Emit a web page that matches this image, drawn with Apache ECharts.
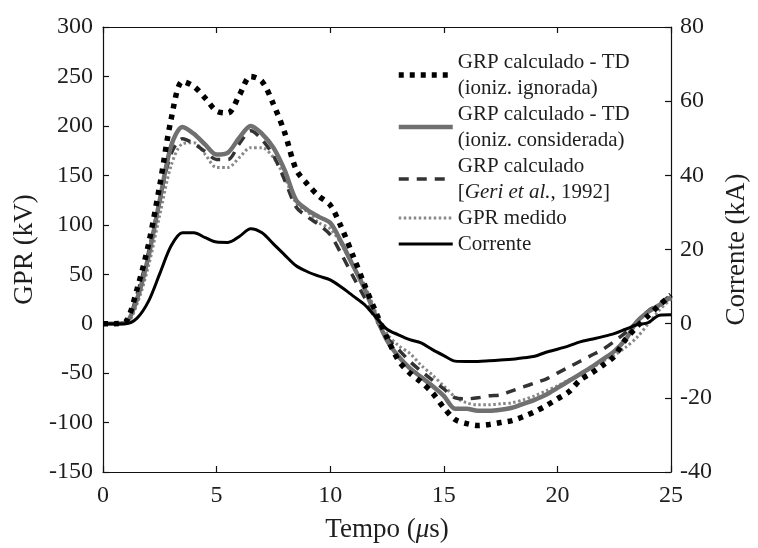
<!DOCTYPE html>
<html>
<head>
<meta charset="utf-8">
<script src="https://cdn.jsdelivr.net/npm/echarts@6/dist/echarts.min.js"></script>
<style>html,body{margin:0;padding:0;background:#fff}#c{width:758px;height:548px}</style>
</head>
<body>
<div id="c"></div>
<script>
// time axis (µs)
const tempo = [0,0.5,1,1.5,2,2.5,3,3.5,4,4.5,5,5.5,6,6.5,7,7.5,8,8.5,9,9.5,10,10.5,11,11.5,12,12.5,13,13.5,14,14.5,15,15.5,16,16.5,17,17.5,18,18.5,19,19.5,20,20.5,21,21.5,22,22.5,23,23.5,24,24.5,25];
// GRP calculado - TD (ioniz. ignorada), kV
const grpIgnorada = [0,0,2,35,80,140,207,245,240,228,215,213,231,250,245,222,193,156,141,129,120,97,69,40,12,-14,-37,-50,-59,-70,-85,-97,-101,-103,-102,-100,-98,-94,-89,-83,-76,-69,-57,-50,-42,-33,-16,-3,8,19,29];
// GRP calculado - TD (ioniz. considerada), kV
const grpConsiderada = [0,0,1,25,68,125,180,199,192,181,171,173,188,200,192,178,155,125,115,108,102,82,59,36,8,-17,-33,-45,-54,-63,-73,-86,-86,-88,-88,-87,-85,-81,-77,-72,-65,-58,-51,-44,-36,-28,-16,2,12,19,27];
// GRP calculado [Geri et al., 1992], kV
const grpGeri = [0,0,1,30,72,125,172,187,182,174,166,166,182,195,186,170,145,118,108,100,90,70,48,27,5,-14,-26,-38,-48,-57,-66,-75,-76,-75,-73,-72,-68,-64,-60,-56,-50,-44,-38,-32,-26,-18,-9,2,13,20,29];
// GPR medido, kV
const gprMedido = [0,0,0,20,58,110,160,182,183,171,158,158,168,178,178,168,148,122,113,102,96,80,58,40,12,-10,-22,-30,-42,-52,-63,-74,-80,-82,-82,-81,-80,-77,-73,-68,-63,-57,-51,-45,-38,-32,-24,-14,0,14,25];
// Corrente, kA
const corrente = [0,0,0,1.5,6,13.5,21,24.5,24.5,23.2,22,21.9,23.5,25.6,24.5,21.5,18.5,15.6,14,12.8,11.8,9.8,7.5,5.2,1.8,-1.5,-3,-4.3,-5.2,-7,-8.6,-10.1,-10.2,-10.2,-10,-9.8,-9.6,-9.2,-8.8,-7.7,-6.9,-6,-4.9,-4.2,-3.5,-2.7,-1.5,-0.3,0.3,2.3,2.4];

const xTicks = [0,5,10,15,20,25];
const yLeftTicks = [-150,-100,-50,0,50,100,150,200,250,300];
const yRightTicks = [-40,-20,0,20,40,60,80];

const names = ['ign','cons','geri','med','cor'];
const legendLabels = {
  ign: 'GRP calculado - TD\n(ioniz. ignorada)',
  cons: 'GRP calculado - TD\n(ioniz. considerada)',
  geri: 'GRP calculado\n[{i|Geri et al.}, 1992]',
  med: 'GPR medido',
  cor: 'Corrente'
};

const FF = '"Liberation Serif", "DejaVu Serif", serif';
const TXT = '#1e1e1e';
const pair = (arr) => tempo.map((t, i) => [t, arr[i]]);

const styles = {
  ign:  {color: '#000',    width: 5.5, type: [5, 6]},
  cons: {color: '#707070', width: 4.5, type: 'solid'},
  geri: {color: '#333',    width: 3.5, type: [10, 8]},
  med:  {color: '#888',    width: 3,   type: [2.5, 2.5]},
  cor:  {color: '#000',    width: 3,   type: 'solid'}
};

const chart = echarts.init(document.getElementById('c'), null, {renderer: 'canvas'});
const axisLine = {show: true, onZero: false, lineStyle: {color: '#111', width: 1.2}};
const tick = {show: true, inside: true, length: 6, lineStyle: {color: '#111', width: 1.2}};

const mk = (key, arr, yIdx, z) => ({
  name: key, type: 'line', yAxisIndex: yIdx, data: pair(arr),
  showSymbol: false, symbol: 'none', smooth: 0.3,
  lineStyle: {...styles[key]}, itemStyle: {color: styles[key].color}, z
});

chart.setOption({
  animation: false,
  backgroundColor: '#fff',
  textStyle: {fontFamily: FF},
  grid: {left: 103, right: 78, top: 27, bottom: 73, containLabel: false},
  legend: {
    data: names.map(n => ({name: n, lineStyle: {...styles[n]}})),
    orient: 'vertical',
    left: 396, top: 49,
    padding: 0, itemGap: 0,
    itemWidth: 54, itemHeight: 14,
    itemStyle: {opacity: 0},
    formatter: (n) => legendLabels[n],
    textStyle: {fontFamily: FF, fontSize: 21, lineHeight: 26, color: TXT,
      rich: {i: {fontFamily: FF, fontSize: 21, lineHeight: 26, fontStyle: 'italic', color: TXT}}}
  },
  xAxis: [
    {type: 'value', min: 0, max: 25, interval: 5, position: 'bottom',
     axisLine, axisTick: tick, splitLine: {show: false},
     axisLabel: {fontFamily: FF, fontSize: 24, color: TXT, margin: 12,
       formatter: (v) => xTicks.includes(v) ? String(v) : ''},
     name: 'Tempo ({i|μ}s)', nameLocation: 'middle', nameGap: 44,
     nameTextStyle: {fontFamily: FF, fontSize: 27, color: TXT,
       rich: {i: {fontFamily: FF, fontSize: 27, fontStyle: 'italic', color: TXT}}}},
    {type: 'value', min: 0, max: 25, interval: 5, position: 'top',
     axisLine, axisTick: tick, splitLine: {show: false}, axisLabel: {show: false}}
  ],
  yAxis: [
    {type: 'value', min: -150, max: 300, interval: 50, position: 'left',
     axisLine, axisTick: tick, splitLine: {show: false},
     axisLabel: {fontFamily: FF, fontSize: 24, color: TXT, margin: 10,
       formatter: (v) => yLeftTicks.includes(v) ? String(v) : ''},
     name: 'GPR (kV)', nameLocation: 'middle', nameGap: 62, nameRotate: 90,
     nameTextStyle: {fontFamily: FF, fontSize: 27, color: TXT}},
    {type: 'value', min: -40, max: 80, interval: 20, position: 'right',
     axisLine, axisTick: tick, splitLine: {show: false},
     axisLabel: {fontFamily: FF, fontSize: 24, color: TXT, margin: 9,
       formatter: (v) => yRightTicks.includes(v) ? String(v) : ''},
     name: 'Corrente (kA)', nameLocation: 'middle', nameGap: 52, nameRotate: 90,
     nameTextStyle: {fontFamily: FF, fontSize: 27, color: TXT}}
  ],
  series: [
    mk('cor', corrente, 1, 5),
    mk('geri', grpGeri, 0, 3),
    mk('med', gprMedido, 0, 2),
    mk('cons', grpConsiderada, 0, 4),
    mk('ign', grpIgnorada, 0, 6)
  ]
});
</script>
</body>
</html>
